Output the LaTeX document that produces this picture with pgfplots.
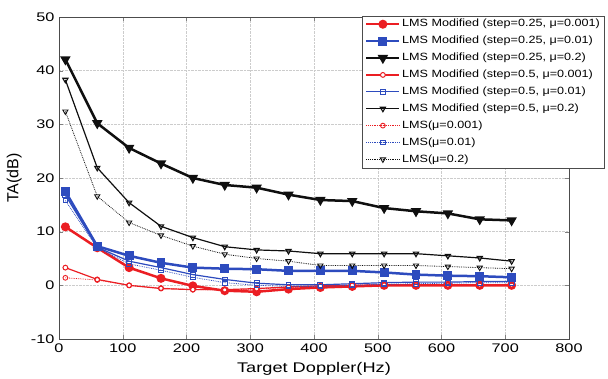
\documentclass[border=0pt]{standalone}
\usepackage{fontspec}
\setmainfont{Liberation Sans}
\newfontfamily\tickfont[FakeStretch=1.3]{Liberation Sans}
\newfontfamily\legfont[FakeStretch=1.2]{Liberation Sans}
\usepackage{pgfplots}
\pgfplotsset{compat=1.18}
\definecolor{mred}{RGB}{235,30,35}
\definecolor{mblue}{RGB}{45,75,190}
\definecolor{mblack}{RGB}{15,15,15}
\begin{document}
\begin{tikzpicture}
\useasboundingbox (0,0) rectangle (608pt,378pt);
\begin{axis}[
  at={(59pt,39pt)}, anchor=south west,
  scale only axis, width=510pt, height=322pt,
  xmin=0, xmax=800, ymin=-10, ymax=50,
  xtick={0,100,...,800}, ytick={-10,0,...,50},
  grid=major, major grid style={densely dotted, gray!40},
  tick align=inside, major tick length=4pt,
  axis line style={gray!60!black},
  /pgf/number format/assume math mode=true,
  tick label style={font=\tickfont\fontsize{12.5}{12.5}\selectfont},
  xticklabel style={yshift=-1pt},
  yticklabel style={xshift=-1pt},
  xlabel={Target Doppler(Hz)}, ylabel={TA(dB)},
  xlabel style={font=\tickfont\fontsize{14}{14}\selectfont, at={(axis description cs:0.5,0)}, anchor=center, yshift=-30pt},
  ylabel style={font=\fontsize{16}{16}\selectfont, at={(axis description cs:-0.088,0.5)}, anchor=center},
  legend cell align=left,
  legend style={at={(rel axis cs:0.594,1.004)}, anchor=north west,
    font=\legfont\fontsize{10.5}{10.5}\selectfont, draw=gray!60!black, inner xsep=3pt, inner ysep=2pt,
    nodes={text height=8pt, text depth=2.6pt, inner ysep=1pt, inner xsep=1.5pt},
    row sep=4.3pt},
  legend image code/.code={\draw[mark repeat=2,mark phase=2,#1] plot coordinates {(0pt,0pt) (16.5pt,0pt) (33pt,0pt)};},
]
\addplot[mred, line width=2.5pt, mark=*, mark size=3.2pt, mark options={solid}] coordinates {
(10,10.9)(60,7.0)(110,3.3)(160,1.3)(210,-0.1)(260,-1.0)(310,-1.2)(360,-0.7)(410,-0.4)(460,-0.2)(510,0.0)(560,0.0)(610,0.0)(660,0.0)(710,0.0)};
\addlegendentry{LMS Modified (step=0.25, μ=0.001)}
\addplot[mblue, line width=2.5pt, mark=square*, mark size=3.2pt, mark options={solid}] coordinates {
(10,17.5)(60,7.3)(110,5.5)(160,4.2)(210,3.3)(260,3.1)(310,3.0)(360,2.7)(410,2.7)(460,2.7)(510,2.4)(560,2.0)(610,1.8)(660,1.7)(710,1.5)};
\addlegendentry{LMS Modified (step=0.25, μ=0.01)}
\addplot[mblack, line width=2.5pt, mark=triangle*, mark size=3.6pt, mark options={solid, rotate=180}] coordinates {
(10,42.1)(60,30.2)(110,25.6)(160,22.7)(210,20.0)(260,18.7)(310,18.2)(360,16.9)(410,15.9)(460,15.7)(510,14.4)(560,13.8)(610,13.4)(660,12.3)(710,12.1)};
\addlegendentry{LMS Modified (step=0.25, μ=0.2)}
\addplot[mred, line width=1.2pt, mark=*, mark size=2.4pt, mark options={solid, fill=white, line width=1pt}] coordinates {
(10,3.3)(60,1.1)(110,0.0)(160,-0.6)(210,-0.8)(260,-0.8)(310,-0.6)(360,-0.3)(410,-0.1)(460,0.0)(510,0.1)(560,0.1)(610,0.1)(660,0.1)(710,0.1)};
\addlegendentry{LMS Modified (step=0.5, μ=0.001)}
\addplot[mblue, line width=1.2pt, mark=square, mark size=2.4pt, mark options={solid, line width=1pt}] coordinates {
(10,16.8)(60,7.1)(110,4.5)(160,3.3)(210,2.0)(260,1.1)(310,0.4)(360,0.1)(410,0.1)(460,0.3)(510,0.5)(560,0.6)(610,0.6)(660,0.7)(710,0.7)};
\addlegendentry{LMS Modified (step=0.5, μ=0.01)}
\addplot[mblack, line width=1.2pt, mark=triangle, mark size=3pt, mark options={solid, rotate=180, line width=1.1pt}] coordinates {
(10,38.3)(60,21.9)(110,15.4)(160,11.0)(210,8.9)(260,7.2)(310,6.6)(360,6.4)(410,5.9)(460,5.9)(510,5.9)(560,5.9)(610,5.5)(660,5.1)(710,4.5)};
\addlegendentry{LMS Modified (step=0.5, μ=0.2)}
\addplot[mred, line width=0.8pt, densely dotted, mark=o, mark size=2.4pt, mark options={solid, line width=0.9pt}] coordinates {
(10,1.4)(60,1.0)(110,0.0)(160,-0.5)(210,-0.8)(260,-0.9)(310,-0.7)(360,-0.4)(410,-0.2)(460,0.0)(510,0.0)(560,0.0)(610,0.0)(660,0.0)(710,0.0)};
\addlegendentry{LMS(μ=0.001)}
\addplot[mblue, line width=0.8pt, densely dotted, mark=square, mark size=2.4pt, mark options={solid, line width=0.9pt}] coordinates {
(10,15.8)(60,7.0)(110,4.0)(160,2.8)(210,1.5)(260,0.5)(310,0.0)(360,-0.2)(410,-0.2)(460,0.0)(510,0.2)(560,0.3)(610,0.4)(660,0.5)(710,0.5)};
\addlegendentry{LMS(μ=0.01)}
\addplot[mblack, line width=0.8pt, densely dotted, mark=triangle, mark size=3pt, mark options={solid, rotate=180, line width=0.9pt}] coordinates {
(10,32.4)(60,16.6)(110,11.7)(160,9.3)(210,7.3)(260,5.8)(310,5.0)(360,4.5)(410,3.7)(460,3.7)(510,3.7)(560,3.7)(610,3.5)(660,3.3)(710,3.1)};
\addlegendentry{LMS(μ=0.2)}
\end{axis}
\end{tikzpicture}
\end{document}
